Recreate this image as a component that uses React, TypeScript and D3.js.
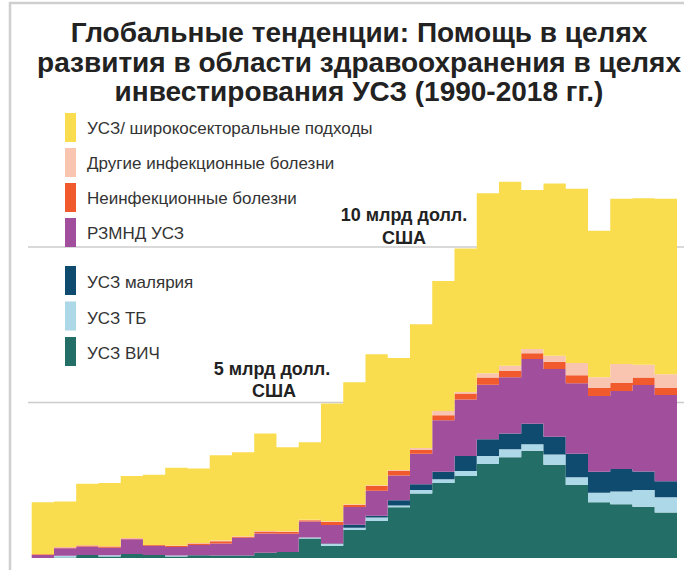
import * as d3 from "d3"
import React from "react"

const years = [1990,1991,1992,1993,1994,1995,1996,1997,1998,1999,2000,2001,2002,2003,2004,2005,2006,2007,2008,2009,2010,2011,2012,2013,2014,2015,2016,2017,2018]

// billions of USD
const hiv = [0,0.02,0.10,0.05,0.13,0.10,0.05,0.09,0.08,0.08,0.17,0.19,0.63,0.39,0.90,1.19,1.63,2.07,2.41,2.64,3.02,3.24,3.45,3.00,2.35,1.79,1.73,1.65,1.46]
const tb = [0,0.05,0,0.04,0,0,0.03,0,0,0,0,0,0.03,0.06,0.07,0.11,0.06,0.12,0.12,0.16,0.26,0.26,0.21,0.33,0.25,0.31,0.41,0.54,0.49]
const malaria = [0,0,0,0,0,0,0,0,0,0,0,0,0,0.02,0.10,0.06,0.17,0.18,0.24,0.48,0.54,0.50,0.66,0.57,0.75,0.67,0.72,0.59,0.52]
const rmnch = [0.10,0.24,0.27,0.24,0.47,0.29,0.27,0.33,0.39,0.57,0.62,0.59,0.51,0.59,0.57,0.80,0.79,0.98,1.66,1.82,1.75,1.81,2.08,2.18,2.27,2.44,2.51,2.78,2.77]
const ncd = [0.02,0.03,0.03,0.04,0.03,0.03,0.04,0.05,0.07,0.03,0.06,0.06,0.04,0.10,0.07,0.16,0.15,0.12,0.16,0.19,0.23,0.20,0.18,0.23,0.26,0.26,0.26,0.24,0.23]
const otherInf = [0,0.01,0.01,0.01,0.01,0,0.01,0.01,0.02,0.02,0.02,0.02,0.02,0.02,0.02,0.02,0.03,0.07,0.14,0.05,0.14,0.17,0.14,0.19,0.39,0.34,0.61,0.41,0.44]
const hss = [1.67,1.47,1.98,2.03,2.00,2.26,2.50,2.40,2.74,2.70,3.13,2.70,2.49,3.79,3.92,4.21,3.60,3.98,4.18,4.61,5.79,5.92,5.11,5.54,5.60,4.71,5.31,5.36,5.64]

const seriesKeys = ["hiv", "tb", "malaria", "rmnch", "ncd", "otherInf", "hss"]
const seriesValues = [hiv, tb, malaria, rmnch, ncd, otherInf, hss]
const seriesColors = ["#236e66", "#acd8e7", "#0f4a6f", "#a14f9c", "#f15a2c", "#f9c5b1", "#fadd4f"]

const legendTop = ["УСЗ/ широкосекторальные подходы", "Другие инфекционные болезни", "Неинфекционные болезни", "РЗМНД УСЗ"]
const legendTopColors = ["#fadd4f", "#f9c5b1", "#f15a2c", "#a14f9c"]
const legendBottom = ["УСЗ малярия", "УСЗ ТБ", "УСЗ ВИЧ"]
const legendBottomColors = ["#0f4a6f", "#acd8e7", "#236e66"]

const titleLines = ["Глобальные тенденции: Помощь в целях", "развития в области здравоохранения в целях", "инвестирования УСЗ (1990-2018 гг.)"]
const gridValues = [5, 10]

export default function App() {
  const W = 684, H = 570
  const x = d3.scaleLinear().domain([1990, 2019]).range([31.7, 677])
  const y = d3.scaleLinear().domain([0, 10]).range([558, 247])

  const rows = years.map((yr, i) => {
    const r: any = { year: yr }
    seriesKeys.forEach((k, j) => { r[k] = seriesValues[j][i] })
    return r
  })
  // extra row so the last step gets its width
  rows.push({ ...rows[rows.length - 1], year: 2019 })

  const stacked = d3.stack().keys(seriesKeys)(rows)
  const area = d3.area<any>()
    .curve(d3.curveStepAfter)
    .x(d => x(d.data.year))
    .y0(d => y(d[0]))
    .y1(d => y(d[1]))

  const font = "'Liberation Sans', Arial, sans-serif"

  return (
    <svg width={W} height={H} style={{ position: "absolute", left: 0, top: 0, background: "#fff" }} fontFamily={font}>
      <rect x={10} y={3} width={W + 10} height={H + 10} fill="#fff" stroke="#cfcfcf" strokeWidth={2.5} />
      {titleLines.map((t, i) => (
        <text key={i} x={359} y={42 + i * 29.5} textAnchor="middle" fontSize={28} fontWeight="bold" fill="#222">{t}</text>
      ))}
      {gridValues.map(v => (
        <line key={v} x1={28} x2={W} y1={y(v)} y2={y(v)} stroke="#cccccc" strokeWidth={1.5} />
      ))}
      {stacked.map((s, i) => (
        <path key={s.key} d={area(s as any) || ""} fill={seriesColors[i]} />
      ))}
      {legendTop.map((t, i) => (
        <g key={t} transform={`translate(65,${113 + i * 35})`}>
          <rect width={11} height={29} fill={legendTopColors[i]} />
          <text x={22} y={21} fontSize={17} fill="#333">{t}</text>
        </g>
      ))}
      {legendBottom.map((t, i) => (
        <g key={t} transform={`translate(65,${266 + i * 35.5})`}>
          <rect width={11} height={29} fill={legendBottomColors[i]} />
          <text x={22} y={22} fontSize={17} fill="#333">{t}</text>
        </g>
      ))}
      <text x={404} y={221} textAnchor="middle" fontSize={18} fontWeight="bold" fill="#222">10 млрд долл.</text>
      <text x={404} y={244} textAnchor="middle" fontSize={18} fontWeight="bold" fill="#222">США</text>
      <text x={272} y={375} textAnchor="middle" fontSize={18} fontWeight="bold" fill="#222">5 млрд долл.</text>
      <text x={274} y={397} textAnchor="middle" fontSize={18} fontWeight="bold" fill="#222">США</text>
    </svg>
  )
}
